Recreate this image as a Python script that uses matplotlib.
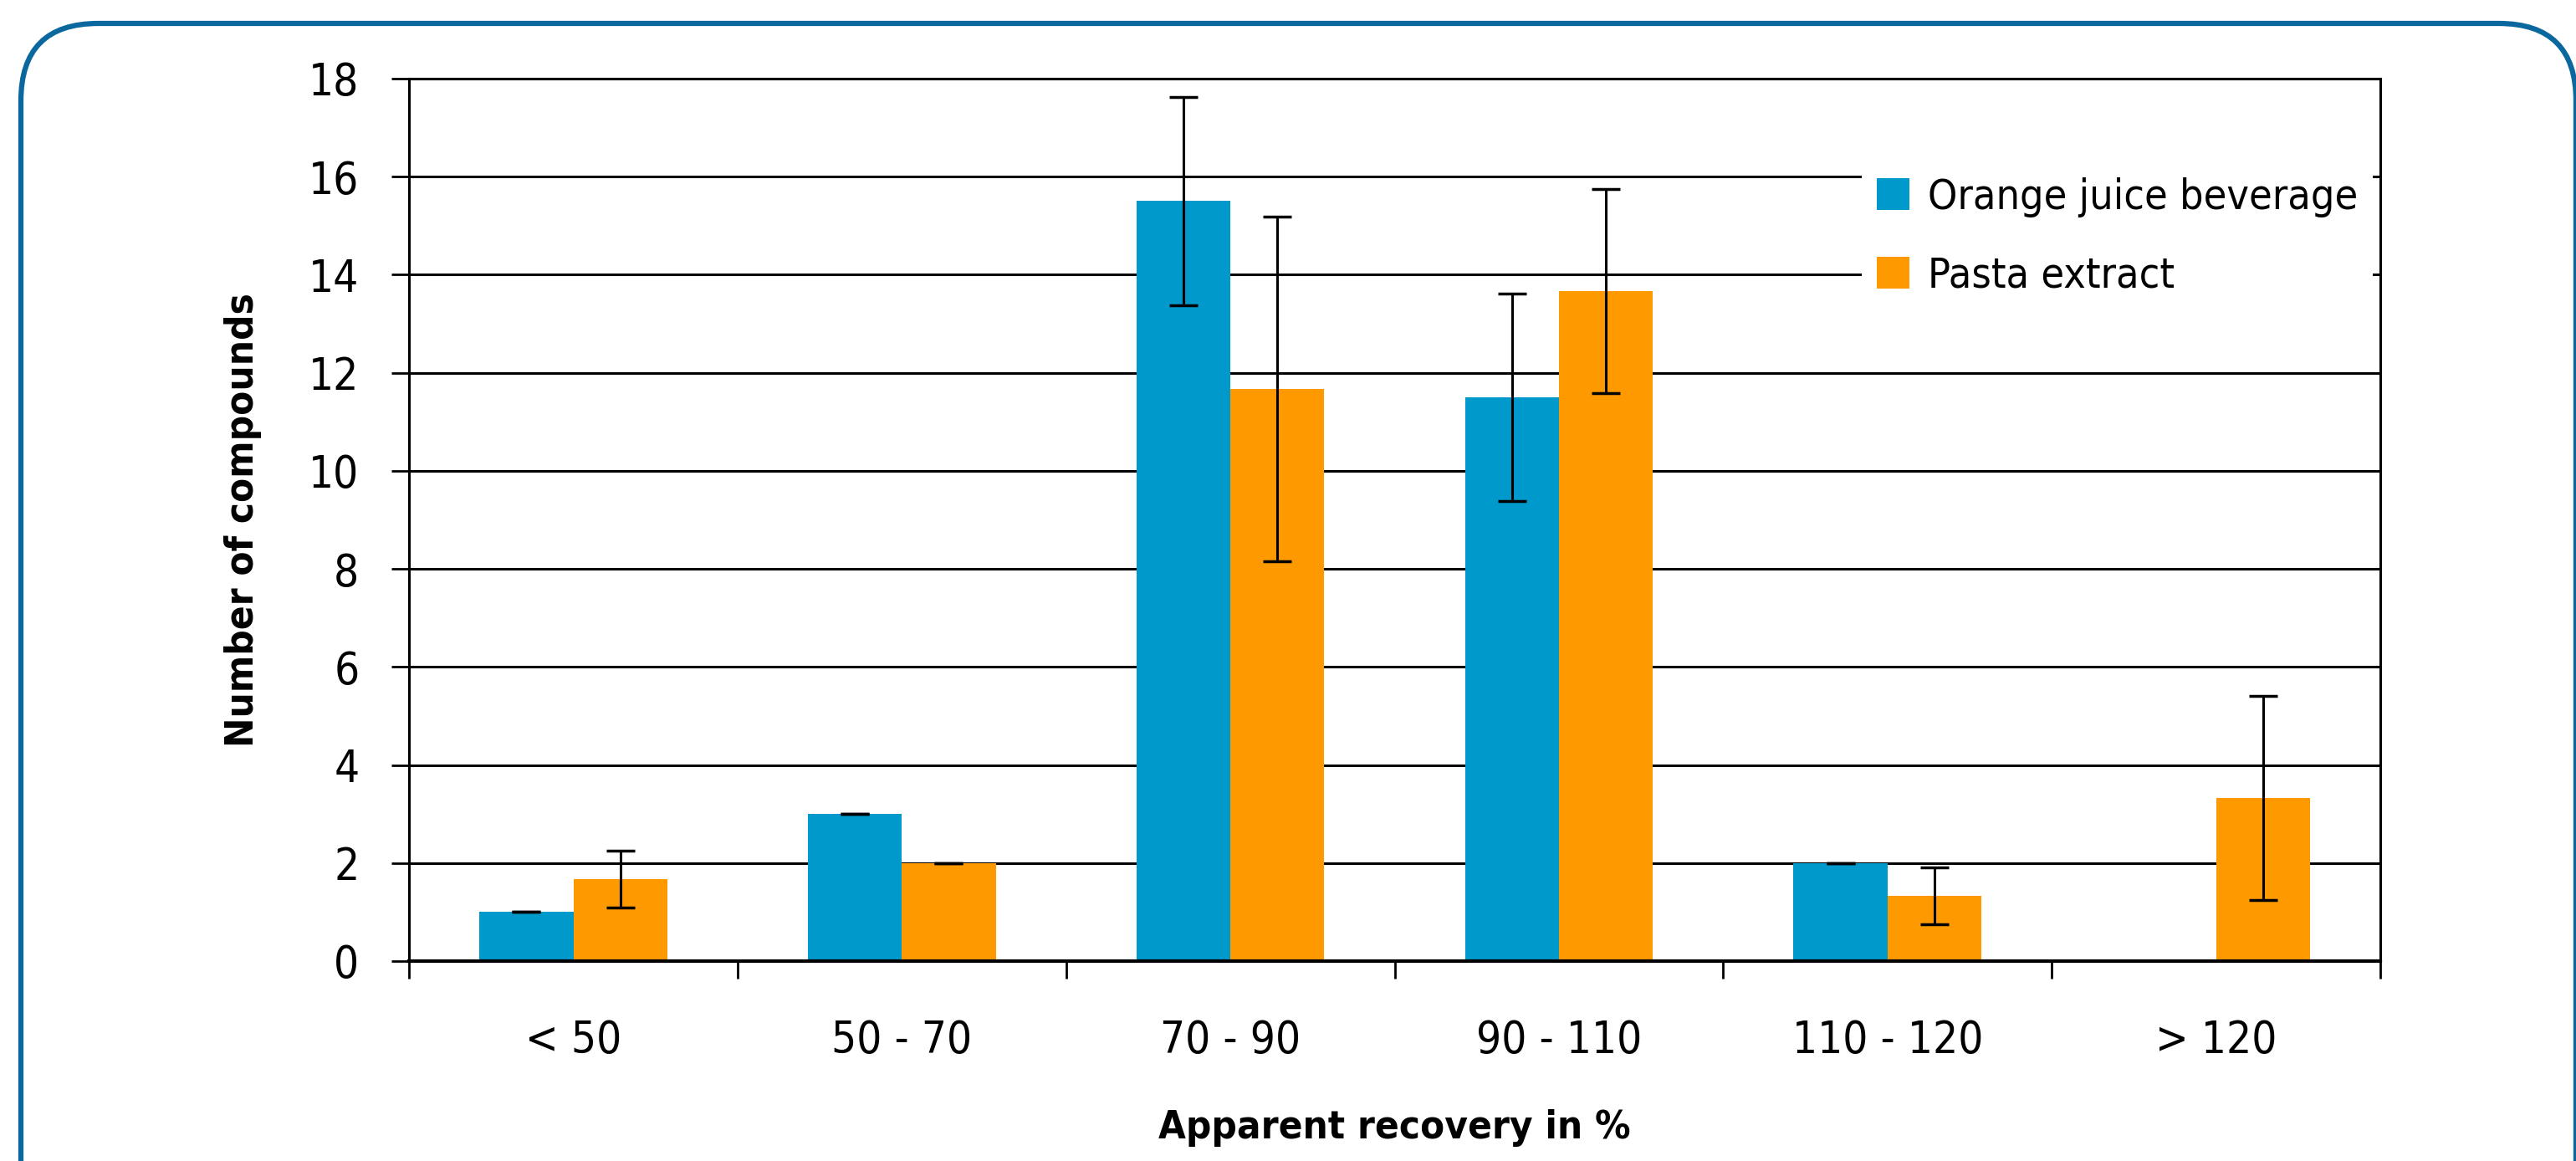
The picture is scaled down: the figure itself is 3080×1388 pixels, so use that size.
import numpy as np
import matplotlib
matplotlib.use('Agg')
import matplotlib.pyplot as plt
from matplotlib import font_manager
from matplotlib.font_manager import FontProperties
from matplotlib.patches import FancyBboxPatch
from matplotlib.ticker import FixedLocator

categories = ['< 50', '50 - 70', '70 - 90', '90 - 110', '110 - 120', '> 120']
orange_juice = [1, 3, 15.5, 11.5, 2, 0]
orange_juice_err = [0, 0, 2.12, 2.12, 0, 0]
pasta = [1.67, 2, 11.67, 13.67, 1.33, 3.33]
pasta_err = [0.58, 0, 3.51, 2.08, 0.58, 2.08]
series_names = ['Orange juice beverage', 'Pasta extract']

blue = '#0099CC'
orange = '#FF9900'
frame_col = '#0A689E'


def is_narrow(f):
    s = str(f.stretch).lower()
    n = (f.name + ' ' + f.fname).lower()
    return ('condensed' in s or 'narrow' in s or 'condensed' in n
            or 'narrow' in n)


def pick_font(bold):
    # look for a condensed/narrow face, the original uses a condensed sans
    best = None
    for f in font_manager.fontManager.ttflist:
        if not is_narrow(f) or f.style != 'normal':
            continue
        wt = f.weight if isinstance(f.weight, int) else \
            (700 if 'bold' in str(f.weight) else 400)
        if bold and wt < 600:
            continue
        if not bold and (wt < 350 or wt > 500):
            continue
        if 'semi' in str(f.stretch).lower() or 'extra' in str(f.stretch):
            score = 1
        else:
            score = 0
        if best is None or score < best[0]:
            best = (score, f.fname)
    if best is None:
        return FontProperties(family='DejaVu Sans',
                              weight='bold' if bold else 'normal')
    return FontProperties(fname=best[1])


fp_reg = pick_font(False)
fp_bold = pick_font(True)

fig = plt.figure(figsize=(30.8, 13.88), dpi=100)
ax = fig.add_axes([0.1588, 0.1722, 0.7652, 0.7601])

# rounded outer frame (bottom runs off the picture)
frame = FancyBboxPatch((25 / 3080, -0.2), (3080 - 25) / 3080, 1.2 - 28 / 1388,
                       boxstyle='round,pad=0,rounding_size=0.03',
                       transform=fig.transFigure, fill=False,
                       edgecolor=frame_col, linewidth=4.5, clip_on=False,
                       mutation_aspect=3080 / 1388)
fig.patches.append(frame)

x = np.arange(len(categories))
w = 1 / 3.5
ekw = dict(ecolor='black', elinewidth=2.2, capsize=12, capthick=2.5)
ax.bar(x - w / 2, orange_juice, w, yerr=orange_juice_err, color=blue,
       label=series_names[0], error_kw=ekw, zorder=3)
ax.bar(x + w / 2, pasta, w, yerr=pasta_err, color=orange,
       label=series_names[1], error_kw=ekw, zorder=3)

ax.set_xlim(-0.5, 5.5)
ax.set_ylim(0, 18)
ax.set_yticks(np.arange(0, 19, 2))
ax.yaxis.grid(True, color='black', linewidth=2.2, zorder=0)
ax.set_axisbelow(True)

ax.set_xticks(x)
ax.set_xticklabels(categories)
ax.xaxis.set_minor_locator(FixedLocator(np.arange(-0.5, 6, 1)))
ax.tick_params(axis='x', which='major', length=0, pad=50)
ax.tick_params(axis='x', which='minor', length=15, width=2, direction='out')
ax.tick_params(axis='y', length=15, width=2, direction='out', pad=28)

fs = 38
for lbl in ax.get_xticklabels() + ax.get_yticklabels():
    lbl.set_fontproperties(fp_reg)
    lbl.set_fontsize(fs)

for s in ['left', 'bottom', 'right', 'top']:
    ax.spines[s].set_color('black')
    ax.spines[s].set_linewidth(2.2)
    ax.spines[s].set_zorder(4)
ax.spines['bottom'].set_linewidth(3)

ax.set_ylabel('Number of compounds', fontproperties=fp_bold, fontsize=34,
              fontweight='bold', labelpad=40)
ax.set_xlabel('Apparent recovery in %', fontproperties=fp_bold, fontsize=34,
              fontweight='bold', labelpad=40)

leg_fp = fp_reg.copy()
leg_fp.set_size(36)
leg = ax.legend(loc='upper left', bbox_to_anchor=(0.737, 0.905), prop=leg_fp,
                frameon=True, fancybox=False, framealpha=1,
                handlelength=0.78, handleheight=0.78, handletextpad=0.45,
                labelspacing=0.92, borderpad=0.35, borderaxespad=0)
leg.get_frame().set_edgecolor('none')
leg.get_frame().set_facecolor('white')
leg.set_zorder(3.5)

fig.savefig('out.png', dpi=100)
